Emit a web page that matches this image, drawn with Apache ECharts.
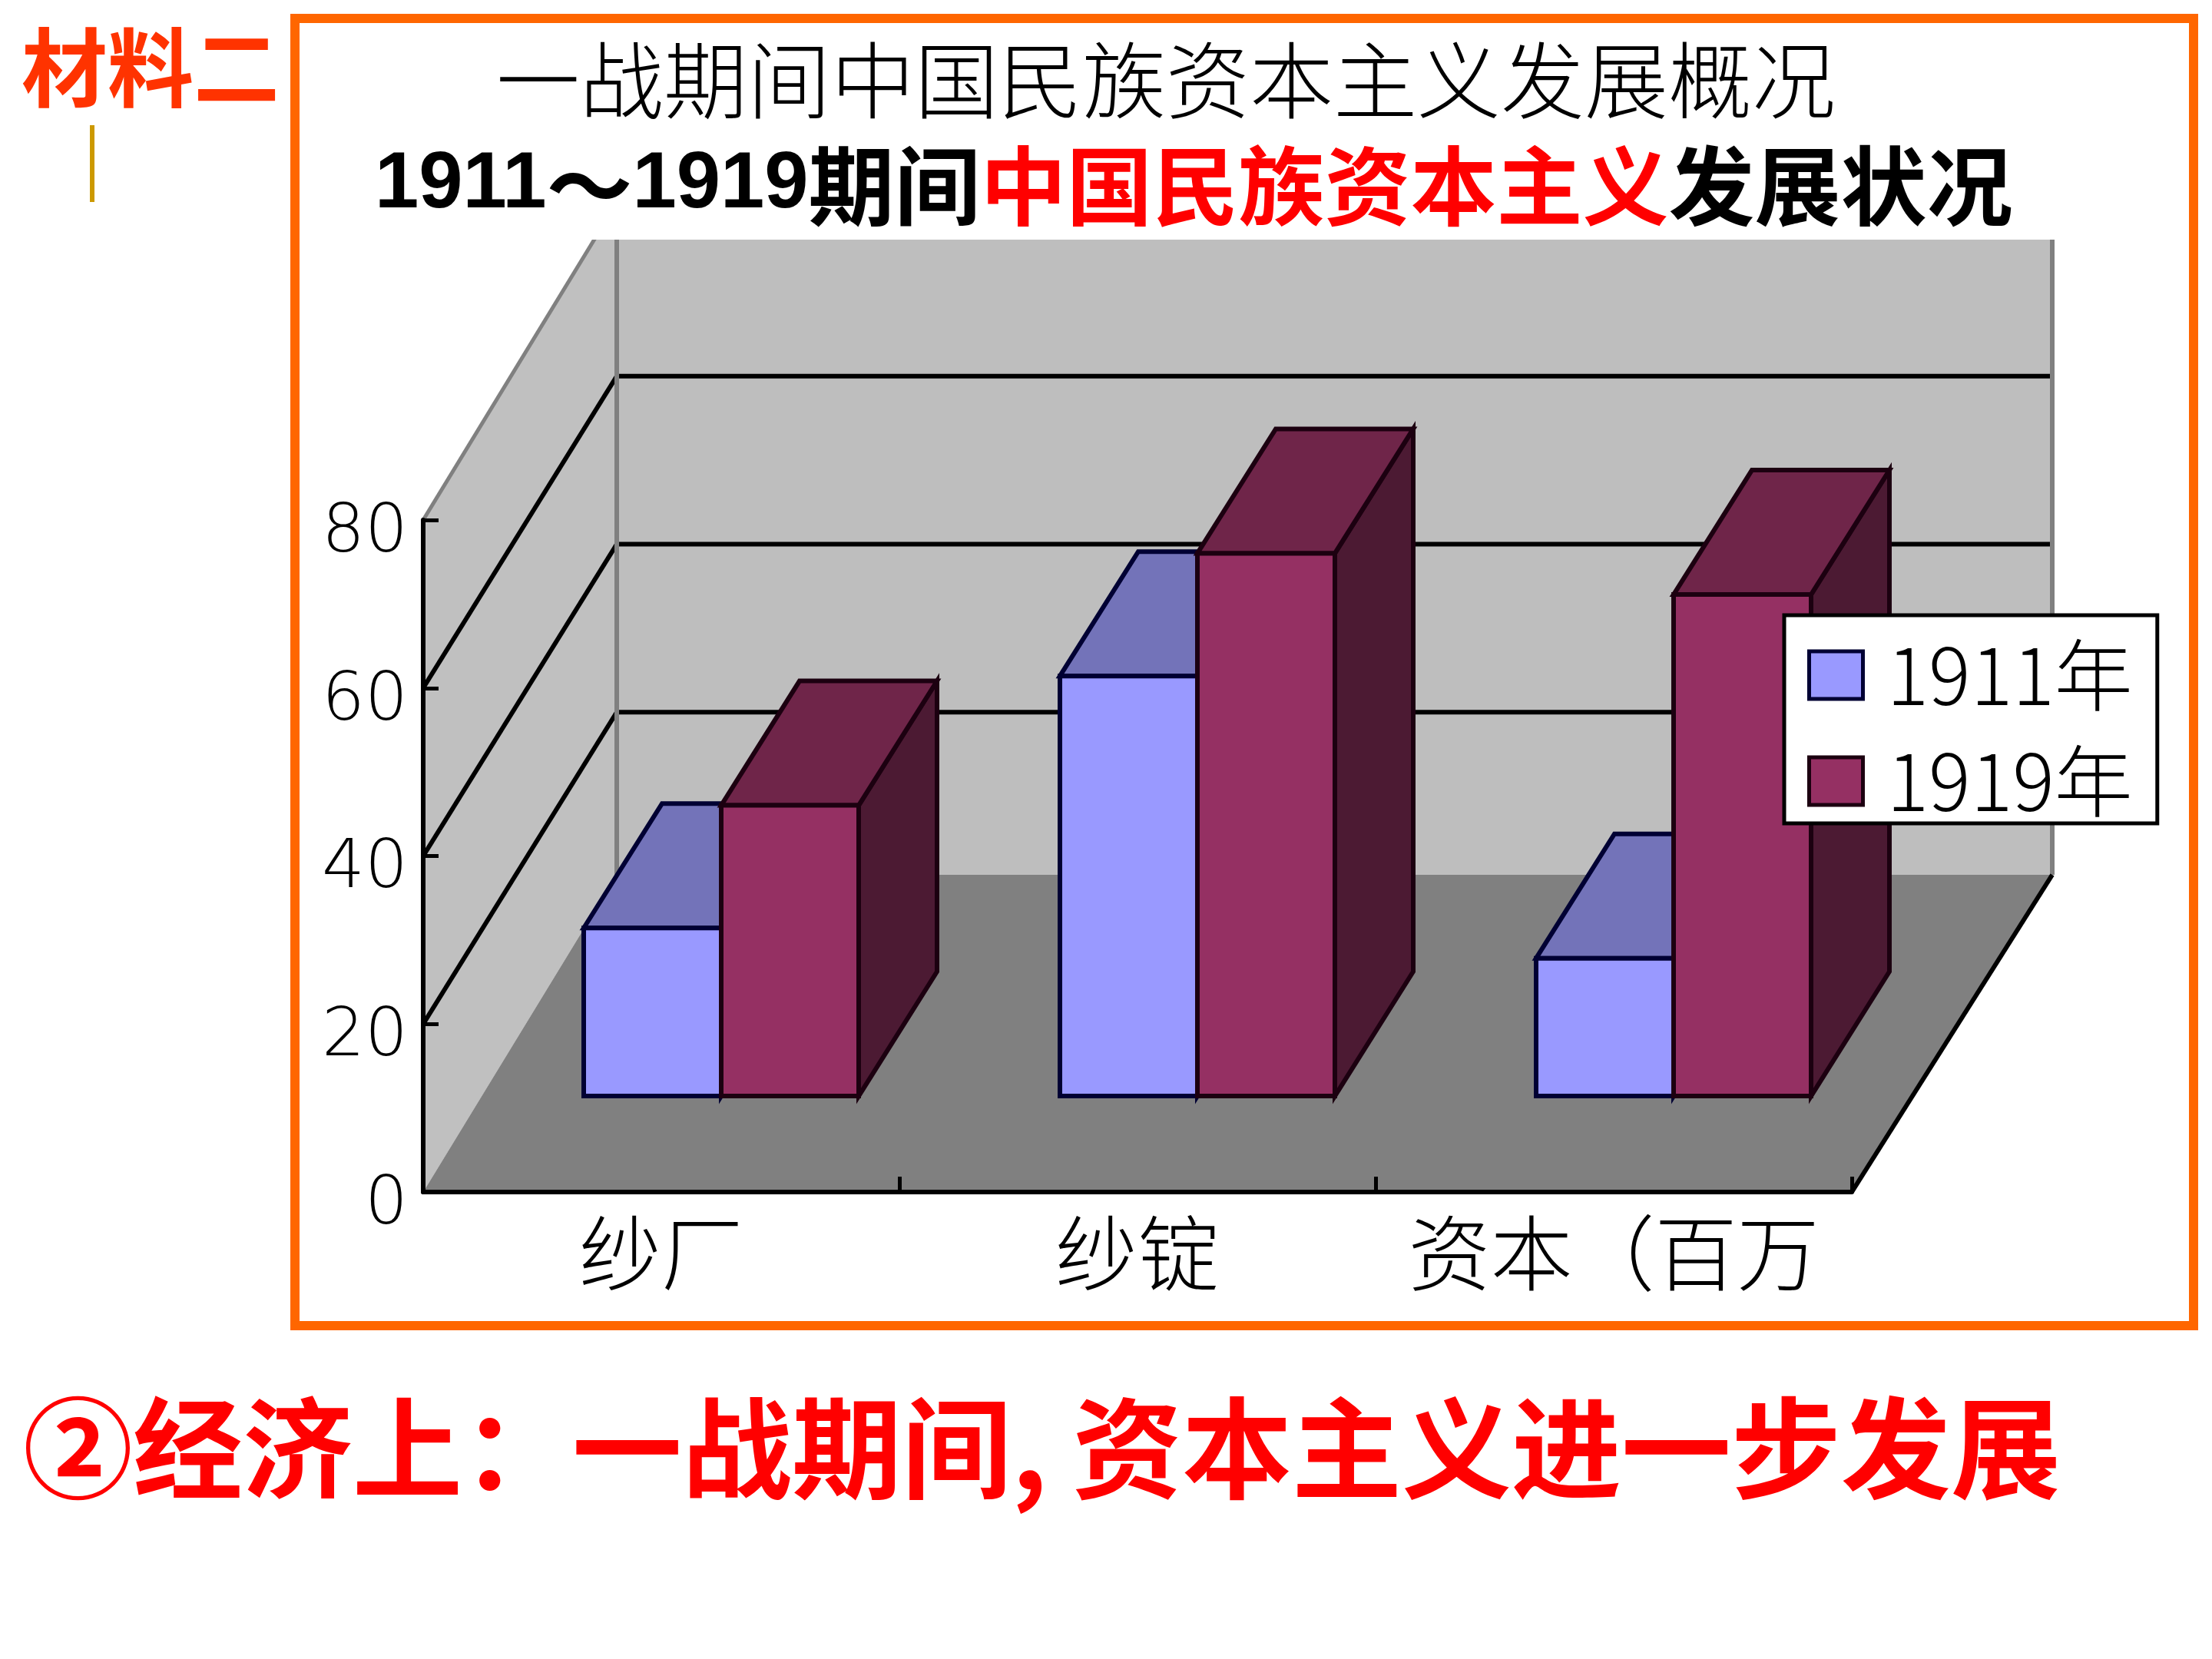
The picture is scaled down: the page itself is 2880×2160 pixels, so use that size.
<!DOCTYPE html>
<html>
<head>
<meta charset="utf-8">
<style>html,body{margin:0;padding:0;background:#fff}#chart{width:2880px;height:2160px}</style>
<script src="https://cdn.jsdelivr.net/npm/echarts@6/dist/echarts.min.js"></script>
</head>
<body>
<div id="chart"></div>
<script>
// Chart data
const categories = ['纱厂', '纱锭', '资本（百万'];
const seriesNames = ['1911年', '1919年'];
const values1911 = [20, 50, 16.4];
const values1919 = [34.6, 64.6, 59.7];
const valueTicks = [0, 20, 40, 60, 80];

// Oblique projection of the 3D box, in pixels
const BOX_DX_LEFT = 252, BOX_DX_RIGHT = 261, BOX_DY = -413; // front plane to back wall
const GRID_DY = -406;                       // gridlines reach the back wall slightly lower
const BAR_SHIFT_X = 78, BAR_SHIFT_Y = -125; // front plane to bar front
const BAR_DX = 102, BAR_DY = -162;          // bar front to bar back
const BAR_WIDTH = 179;

const CJK = '"Noto Sans CJK SC","Noto Sans",sans-serif';
const THIN = '"DejaVu Sans Light","DejaVu Sans",sans-serif';

function poly(points, fill, stroke, lineWidth) {
  return {
    type: 'polygon',
    shape: { points: points },
    style: { fill: fill, stroke: stroke || null, lineWidth: lineWidth || 0, lineJoin: 'miter' }
  };
}
function seg(a, b, color, width) {
  return {
    type: 'line',
    shape: { x1: a[0], y1: a[1], x2: b[0], y2: b[1] },
    style: { stroke: color, lineWidth: width, fill: null }
  };
}

// Side wall, back wall, floor and their gridlines
function renderBox(params, api) {
  const base = api.coord([0, 0]);
  const step = api.size([1, 0])[0];
  const x0 = base[0] - step / 2;
  const x1 = x0 + step * categories.length;
  const backL = x0 + BOX_DX_LEFT, backR = x1 + BOX_DX_RIGHT;
  const at = v => api.coord([0, v])[1];
  const top = at(valueTicks[valueTicks.length - 1]);
  const y0 = at(0);
  const kids = [];
  kids.push(poly([[x0, top], [backL, top + BOX_DY], [backL, y0 + BOX_DY], [x0, y0]], '#c0c0c0'));
  kids.push(poly([[backL, top + BOX_DY], [backR, top + BOX_DY], [backR, y0 + BOX_DY], [backL, y0 + BOX_DY]], '#bebebe'));
  kids.push(poly([[x0, y0], [x1, y0], [backR, y0 + BOX_DY], [backL, y0 + BOX_DY]], '#808080'));
  valueTicks.forEach(v => {
    if (v === 0) return;
    const y = at(v);
    if (v === valueTicks[valueTicks.length - 1]) {
      kids.push(seg([x0, y], [backL, y + BOX_DY], '#808080', 5));
    } else {
      kids.push(seg([x0, y], [backL, y + GRID_DY], '#000', 6));
      kids.push(seg([backL, y + GRID_DY], [backR, y + GRID_DY], '#000', 6));
    }
  });
  kids.push(seg([backL, top + BOX_DY], [backL, y0 + BOX_DY], '#808080', 6));
  kids.push(seg([backR, top + BOX_DY], [backR, y0 + BOX_DY], '#808080', 6));
  kids.push(seg([x1, y0], [backR, y0 + BOX_DY], '#000', 6));
  return { type: 'group', children: kids };
}

// One extruded bar; side says which half of the category band it occupies
function barRenderer(side, colors) {
  return function (params, api) {
    const p = api.coord([api.value(0), api.value(1)]);
    const y0 = api.coord([api.value(0), 0])[1] + BAR_SHIFT_Y;
    const yt = p[1] + BAR_SHIFT_Y;
    const xa = p[0] + BAR_SHIFT_X + (side < 0 ? -BAR_WIDTH : 0);
    const xb = xa + BAR_WIDTH;
    const lw = 6;
    return {
      type: 'group',
      children: [
        poly([[xb, yt], [xb + BAR_DX, yt + BAR_DY], [xb + BAR_DX, y0 + BAR_DY], [xb, y0]], colors.side, colors.line, lw),
        poly([[xa, yt], [xa + BAR_DX, yt + BAR_DY], [xb + BAR_DX, yt + BAR_DY], [xb, yt]], colors.top, colors.line, lw),
        poly([[xa, yt], [xb, yt], [xb, y0], [xa, y0]], colors.front, colors.line, lw)
      ]
    };
  };
}

const color1911 = { front: '#9999ff', top: '#7373b9', side: '#4c4c80', line: '#000033' };
const color1919 = { front: '#953063', top: '#6f2549', side: '#4c1a33', line: '#1c0010' };

const chart = echarts.init(document.getElementById('chart'), null, { renderer: 'canvas' });
chart.setOption({
  animation: false,
  backgroundColor: '#fff',
  title: [
    {
      text: '材料二', left: 28, top: 32, padding: 0, z: 8,
      textStyle: { color: '#ff3300', fontFamily: CJK, fontWeight: 'bold', fontSize: 112 }
    },
    {
      text: '一战期间中国民族资本主义发展概况', left: 646, top: 50, padding: 0, z: 8,
      textStyle: { color: '#000', fontFamily: CJK, fontWeight: 300, fontSize: 109 }
    },
    {
      text: '{d|1911}{k|～}{d|1919}{k|期间}{r|中国民族资本主义}{k|发展状况}',
      left: 488, top: 184, padding: 0, z: 8,
      textStyle: {
        rich: {
          d: { color: '#000', fontFamily: '"Liberation Sans",sans-serif', fontWeight: 'bold', fontSize: 103, lineHeight: 116 },
          k: { color: '#000', fontFamily: CJK, fontWeight: 'bold', fontSize: 112, lineHeight: 116 },
          r: { color: '#ff0000', fontFamily: CJK, fontWeight: 'bold', fontSize: 112, lineHeight: 116 }
        }
      }
    },
    {
      text: '②经济上：一战期间, 资本主义进一步发展', left: 30, top: 1814, padding: 0, z: 8,
      textStyle: { color: '#ff0000', fontFamily: CJK, fontWeight: 'bold', fontSize: 143 }
    }
  ],
  graphic: [
    // White band the titles sit on, cutting off the top of the walls
    { type: 'rect', z: 3, shape: { x: 392, y: 32, width: 2456, height: 280 }, style: { fill: '#fff' } },
    { type: 'rect', z: 5, shape: { x: 384, y: 24, width: 2472, height: 1702 }, style: { fill: null, stroke: '#ff6600', lineWidth: 12 } },
    { type: 'rect', z: 5, shape: { x: 117, y: 163, width: 6, height: 100 }, style: { fill: '#cc9900' } }
  ],
  legend: {
    data: [
      { name: seriesNames[0], itemStyle: { color: color1911.front, borderColor: color1911.line, borderWidth: 5 } },
      { name: seriesNames[1], itemStyle: { color: color1919.front, borderColor: color1919.line, borderWidth: 5 } }
    ],
    orient: 'vertical',
    left: 2323, top: 801,
    z: 10,
    padding: [27, 32, 4, 30],
    itemGap: 36,
    itemWidth: 70,
    itemHeight: 62,
    icon: 'rect',
    selectedMode: false,
    backgroundColor: '#fff',
    borderColor: '#000',
    borderWidth: 5,
    textStyle: { color: '#000', fontFamily: CJK, fontSize: 102, fontWeight: 300, padding: [0, 0, 0, 26] }
  },
  grid: { left: 551, top: 677, right: 469, bottom: 608, containLabel: false },
  xAxis: {
    type: 'category',
    data: categories,
    z: 4,
    axisLine: { show: true, lineStyle: { color: '#000', width: 6 } },
    axisTick: { show: true, inside: true, length: 20, lineStyle: { color: '#000', width: 5 } },
    axisLabel: { color: '#000', fontFamily: CJK, fontWeight: 300, fontSize: 107, margin: 26, interval: 0 }
  },
  yAxis: {
    type: 'value',
    min: 0, max: 80, interval: 20,
    z: 4,
    splitLine: { show: false },
    axisLine: { show: true, lineStyle: { color: '#000', width: 6 } },
    axisTick: { show: true, inside: true, length: 20, lineStyle: { color: '#000', width: 5 } },
    axisLabel: {
      margin: 20,
      formatter: '{v|{value}}',
      rich: { v: { color: '#000', fontFamily: THIN, fontSize: 88, padding: [36, 0, 0, 0] } }
    }
  },
  series: [
    { type: 'custom', name: 'box', z: 1, silent: true, data: [[0, 0]], encode: { x: 0, y: 1 }, renderItem: renderBox },
    {
      type: 'custom', name: seriesNames[0], z: 2, silent: true,
      itemStyle: { color: color1911.front },
      data: values1911.map((v, i) => [i, v]), encode: { x: 0, y: 1 },
      renderItem: barRenderer(-1, color1911)
    },
    {
      type: 'custom', name: seriesNames[1], z: 3, silent: true,
      itemStyle: { color: color1919.front },
      data: values1919.map((v, i) => [i, v]), encode: { x: 0, y: 1 },
      renderItem: barRenderer(1, color1919)
    }
  ]
});
</script>
</body>
</html>
